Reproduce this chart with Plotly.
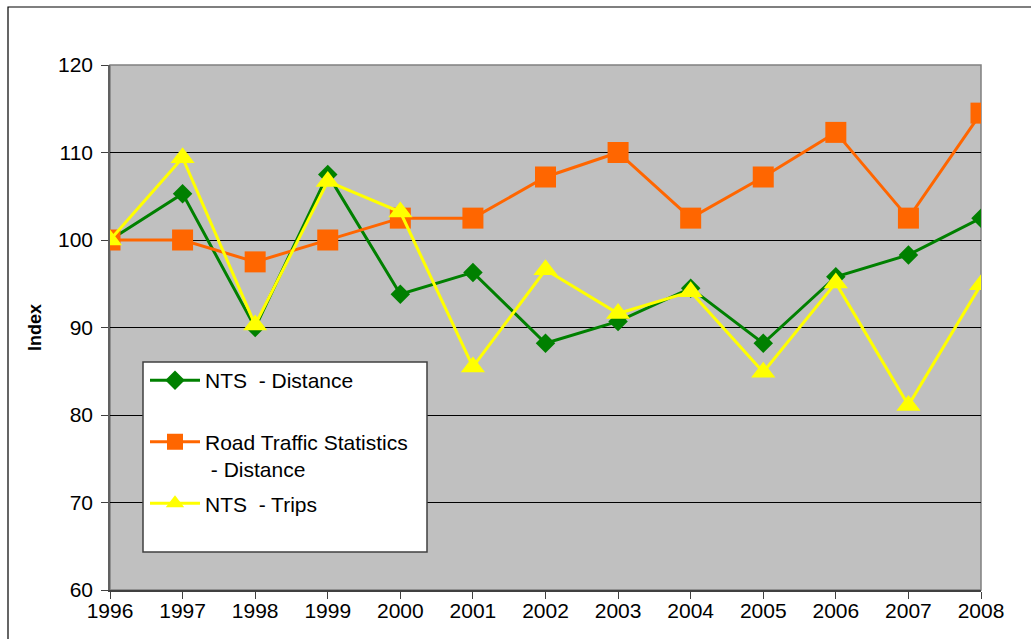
import plotly.graph_objects as go

years = [1996, 1997, 1998, 1999, 2000, 2001, 2002, 2003, 2004, 2005, 2006, 2007, 2008]
nts_distance = [100, 105.3, 90.0, 107.5, 93.8, 96.3, 88.2, 90.7, 94.5, 88.2, 95.8, 98.3, 102.5]
rts_distance = [100, 100, 97.5, 100, 102.5, 102.5, 107.2, 110, 102.5, 107.2, 112.3, 102.5, 114.5]
nts_trips = [100, 109.4, 90.3, 106.7, 103.2, 85.5, 96.6, 91.6, 94.1, 84.9, 95.1, 81.1, 94.9]

names = ["NTS  - Distance<br>&nbsp;", "Road Traffic Statistics<br> - Distance", "NTS  - Trips"]
colors = ["#008000", "#FF6600", "#FFFF00"]

W, H = 1031, 639
L, R, T, B = 110, 50, 65, 49
PW, PH = W - L - R, H - T - B


def px(x):
    return (x - L) / PW


def py(y):
    return (H - B - y) / PH


fig = go.Figure()
fig.add_trace(go.Scatter(x=years, y=nts_distance, name=names[0], mode="lines+markers",
                         line=dict(color=colors[0], width=3),
                         marker=dict(symbol="diamond", size=15, color=colors[0]),
                         legendgroup="a"))
fig.add_trace(go.Scatter(x=years, y=rts_distance, name=names[1], mode="lines+markers",
                         line=dict(color=colors[1], width=3),
                         marker=dict(symbol="square", size=21, color=colors[1]),
                         legendgroup="b"))
fig.add_trace(go.Scatter(x=years, y=nts_trips, name=names[2], mode="lines+markers",
                         line=dict(color=colors[2], width=3),
                         marker=dict(symbol="triangle-up", size=21, color=colors[2]),
                         legendgroup="c"))

fig.update_layout(
    width=W, height=H,
    margin=dict(l=L, r=R, t=T, b=B, autoexpand=False),
    paper_bgcolor="white",
    plot_bgcolor="#C0C0C0",
    font=dict(family="Liberation Sans, Arial, sans-serif", size=21, color="black"),
    showlegend=True,
    legend=dict(x=px(145), y=py(360), xanchor="left", yanchor="top",
                bgcolor="rgba(0,0,0,0)", borderwidth=0, valign="top",
                traceorder="grouped", tracegroupgap=4, itemwidth=50,
                font=dict(size=21)),
    shapes=[
        dict(type="rect", xref="paper", yref="paper",
             x0=px(143), x1=px(427), y0=py(552), y1=py(362),
             fillcolor="white", line=dict(color="#404040", width=1.5), layer="above"),
        dict(type="rect", xref="paper", yref="paper",
             x0=px(8), x1=px(1040), y0=py(700), y1=py(7),
             fillcolor="rgba(0,0,0,0)", line=dict(color="black", width=1.2), layer="below"),
        dict(type="rect", xref="paper", yref="paper", x0=0, x1=1, y0=0, y1=1,
             line=dict(color="#808080", width=1.5), fillcolor="rgba(0,0,0,0)", layer="below"),
    ],
)

fig.update_xaxes(range=[1996, 2008], tickmode="array", tickvals=years,
                 ticktext=[str(y) for y in years], tickfont=dict(size=21),
                 showgrid=False, showline=True, linecolor="#404040", linewidth=2,
                 mirror=False, ticks="outside", ticklen=7, tickcolor="#404040",
                 ticklabelstandoff=-6, automargin=False,
                 zeroline=False, fixedrange=True)
fig.update_yaxes(range=[60, 120], dtick=10, showgrid=True, gridcolor="black", gridwidth=1,
                 showline=True, linecolor="#606060", linewidth=1.5, mirror=False,
                 ticks="outside", ticklen=7, tickcolor="#404040", zeroline=False,
                 tickfont=dict(size=21),
                 ticklabelstandoff=4, automargin=False,
                 title=dict(text="<b>Index</b>", font=dict(size=18), standoff=12))

fig.write_html("out.html", post_script="document.body.style.margin='0px';",
               config={"displayModeBar": False})
